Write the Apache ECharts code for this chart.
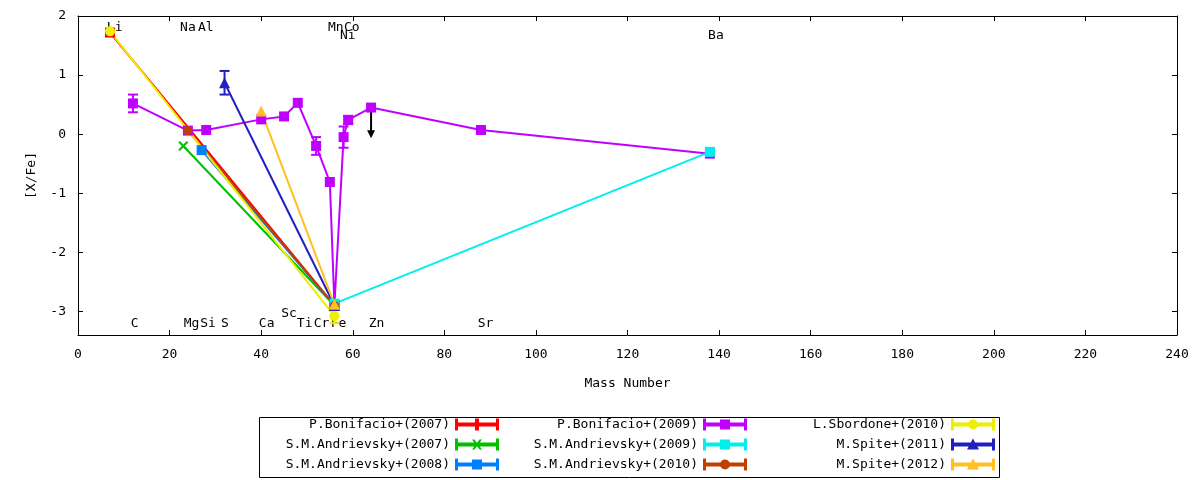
<!DOCTYPE html>
<html>
<head>
<meta charset="utf-8">
<script src="https://cdn.jsdelivr.net/npm/echarts@6/dist/echarts.min.js"></script>
<style>
  html, body { margin: 0; padding: 0; background: #fff; }
  #chart { width: 1200px; height: 480px; }
</style>
</head>
<body>
<div id="chart"></div>
<script>
// [mass number, [X/Fe], error]
const bonifacio2007 = [[7, 1.72, 0.06], [56, -2.9, 0]];
const andrievsky2007 = [[23, -0.2, 0], [56, -2.9, 0]];
const andrievsky2008 = [[27, -0.27, 0], [56, -2.9, 0]];
const bonifacio2009 = [
    [12, 0.52, 0.15], [24, 0.06, 0], [28, 0.07, 0], [40, 0.25, 0], [45, 0.3, 0],
    [48, 0.53, 0], [52, -0.2, 0.15], [55, -0.81, 0], [56, -2.9, 0], [58, -0.05, 0.18],
    [59, 0.24, 0.07], [64, 0.45, 0], [88, 0.07, 0], [138, -0.33, 0]
];
const andrievsky2009 = [[56, -2.87, 0], [138, -0.3, 0]];
const andrievsky2010 = [[24, 0.06, 0], [56, -2.9, 0]];
const sbordone2010 = [[7, 1.74, 0], [56, -3.08, 0.12]];
const spite2011 = [[32, 0.87, 0.2], [56, -2.9, 0]];
const spite2012 = [[40, 0.39, 0], [56, -2.88, 0.07]];

// Zn upper limit arrow: mass, from, to
const zincLimit = [64, 0.45, -0.07];

const seriesNames = [
    'P.Bonifacio+(2007)', 'S.M.Andrievsky+(2007)', 'S.M.Andrievsky+(2008)',
    'P.Bonifacio+(2009)', 'S.M.Andrievsky+(2009)', 'S.M.Andrievsky+(2010)',
    'L.Sbordone+(2010)', 'M.Spite+(2011)', 'M.Spite+(2012)'
];

// element labels (text centre, data units)
const elementNames = ['Li', 'Na', 'Al', 'Mn', 'Co', 'Ni', 'Ba',
    'C', 'Mg', 'Si', 'S', 'Ca', 'Sc', 'Ti', 'Cr', 'Fe', 'Zn', 'Sr'];
const elementLabelX = [8, 24, 27.9, 56.3, 59.8, 58.9, 139.3,
    12.4, 24.8, 28.4, 32.1, 41.2, 46.1, 49.5, 53.2, 56.9, 65.2, 89];
const elementLabelY = [1.8, 1.8, 1.8, 1.8, 1.8, 1.66, 1.66,
    -3.21, -3.21, -3.21, -3.21, -3.21, -3.03, -3.21, -3.21, -3.21, -3.21, -3.21];

const allSets = [bonifacio2007, andrievsky2007, andrievsky2008, bonifacio2009, andrievsky2009,
    andrievsky2010, sbordone2010, spite2011, spite2012];

const colors = ['#ff0000', '#00c000', '#0080ff', '#c000ff', '#00eeee', '#c04000', '#eeee00', '#2020c0', '#ffc020'];
const crossPath = 'path://M0,1.5L1.5,0L5,3.5L8.5,0L10,1.5L6.5,5L10,8.5L8.5,10L5,6.5L1.5,10L0,8.5L3.5,5Z';
const symbols = ['rect', crossPath, 'rect', 'rect', 'rect', 'circle', 'circle', 'triangle', 'triangle'];
const symbolSizes = [10, 10, 10, 10, 10, 9, 10, 11, 11];

// legend samples: thick line with caps + marker
const keyBase = 'M0,0H3V4H41V0H44V12H41V8H3V12H0Z';
const keyMarks = {
    bar: 'M20,0H24V12H20Z',
    square: 'M17,1H27V11H17Z',
    circle: 'M17,6A5,5 0 1,1 27,6A5,5 0 1,1 17,6Z',
    triangle: 'M22,0L28,11H16Z',
    cross: 'M17,1L19.5,1L27,11L24.5,11ZM24.5,1L27,1L19.5,11L17,11Z'
};
const keyIcons = ['bar', 'cross', 'square', 'square', 'square', 'circle', 'circle', 'triangle', 'triangle']
    .map(k => 'path://' + keyBase + keyMarks[k]);

const font = 'DejaVu Sans Mono';

const chart = echarts.init(document.getElementById('chart'));

function renderErrorBar(params, api) {
    const x = api.value(0);
    const y = api.value(1);
    const e = api.value(2);
    const top = api.coord([x, y + e]);
    const bot = api.coord([x, y - e]);
    const half = 5;
    const style = { stroke: api.visual('color'), lineWidth: 2 };
    return {
        type: 'group',
        children: [
            { type: 'line', shape: { x1: top[0], y1: top[1], x2: bot[0], y2: bot[1] }, style: style },
            { type: 'line', shape: { x1: top[0] - half, y1: top[1], x2: top[0] + half, y2: top[1] }, style: style },
            { type: 'line', shape: { x1: bot[0] - half, y1: bot[1], x2: bot[0] + half, y2: bot[1] }, style: style }
        ]
    };
}

const series = [];

// element names first so markers sit above them
series.push({
    type: 'custom',
    silent: true,
    data: elementNames.map((n, i) => [elementLabelX[i], elementLabelY[i]]),
    renderItem: function (params, api) {
        const p = api.coord([api.value(0), api.value(1)]);
        return {
            type: 'text',
            x: p[0],
            y: p[1],
            style: {
                text: elementNames[params.dataIndex],
                fill: '#000',
                font: '13px "' + font + '"',
                align: 'center',
                verticalAlign: 'middle'
            }
        };
    }
});

allSets.forEach((set, i) => {
    series.push({
        name: seriesNames[i],
        type: 'line',
        data: set.map(d => [d[0], d[1]]),
        symbol: symbols[i],
        symbolSize: symbolSizes[i],
        showSymbol: true,
        lineStyle: { color: colors[i], width: 2 },
        itemStyle: { color: colors[i] },
        emphasis: { disabled: true },
        silent: true
    });
    const errs = set.filter(d => d[2] > 0);
    if (errs.length) {
        series.push({
            name: seriesNames[i],
            type: 'custom',
            silent: true,
            itemStyle: { color: colors[i] },
            data: errs,
            encode: { x: 0, y: 1 },
            renderItem: renderErrorBar
        });
    }
    if (i === 3) {
        // upper limit arrow on Zn
        series.push({
            type: 'custom',
            silent: true,
            data: [zincLimit],
            encode: { x: 0, y: 1 },
            renderItem: function (params, api) {
                const a = api.coord([api.value(0), api.value(1)]);
                const b = api.coord([api.value(0), api.value(2)]);
                return {
                    type: 'group',
                    children: [
                        { type: 'line', shape: { x1: a[0], y1: a[1], x2: b[0], y2: b[1] - 6 },
                          style: { stroke: '#000', lineWidth: 2 } },
                        { type: 'polygon', shape: { points: [[b[0] - 4, b[1] - 8], [b[0] + 4, b[1] - 8], [b[0], b[1]]] },
                          style: { fill: '#000' } }
                    ]
                };
            }
        });
    }
});

function legendColumn(idx, right) {
    return {
        orient: 'vertical',
        align: 'right',
        right: right,
        top: 418,
        padding: 0,
        itemWidth: 44,
        itemHeight: 12,
        itemGap: 7,
        selectedMode: false,
        itemStyle: { borderWidth: 0 },
        textStyle: { fontFamily: font, fontSize: 13, color: '#000', lineHeight: 12 },
        data: idx.map(j => ({ name: seriesNames[j], icon: keyIcons[j] }))
    };
}

const xAxisBase = {
    type: 'value',
    min: 0,
    max: 240,
    interval: 20,
    splitLine: { show: false },
    axisLine: { show: true, onZero: false, lineStyle: { color: '#000', width: 1 } },
    axisTick: { show: true, inside: true, length: 5, lineStyle: { color: '#000' } }
};
const yAxisBase = {
    type: 'value',
    min: -3.4,
    max: 2,
    splitNumber: 5,
    splitLine: { show: false },
    axisLine: { show: true, onZero: false, lineStyle: { color: '#000', width: 1 } },
    axisTick: { show: true, inside: true, length: 5, lineStyle: { color: '#000' } }
};

chart.setOption({
    animation: false,
    backgroundColor: '#fff',
    grid: { left: 78, right: 23, top: 16, bottom: 145 },
    xAxis: [
        Object.assign({}, xAxisBase, {
            position: 'bottom',
            name: 'Mass Number',
            nameLocation: 'middle',
            nameGap: 42,
            nameTextStyle: { fontFamily: font, fontSize: 13, color: '#000' },
            axisLabel: { fontFamily: font, fontSize: 13, color: '#000', margin: 13 }
        }),
        Object.assign({}, xAxisBase, { position: 'top', axisLabel: { show: false } })
    ],
    yAxis: [
        Object.assign({}, yAxisBase, {
            position: 'left',
            name: '[X/Fe]',
            nameLocation: 'middle',
            nameGap: 40,
            nameTextStyle: { fontFamily: font, fontSize: 13, color: '#000' },
            axisLabel: { fontFamily: font, fontSize: 13, color: '#000', margin: 12, showMinLabel: false }
        }),
        Object.assign({}, yAxisBase, { position: 'right', axisLabel: { show: false } })
    ],
    legend: [
        legendColumn([0, 1, 2], 701),
        legendColumn([3, 4, 5], 453),
        legendColumn([6, 7, 8], 205)
    ],
    graphic: [{
        type: 'rect',
        left: 257,
        top: 415,
        shape: { width: 740, height: 60 },
        style: { fill: 'none', stroke: '#000', lineWidth: 1 },
        silent: true
    }],
    series: series
});
</script>
</body>
</html>
